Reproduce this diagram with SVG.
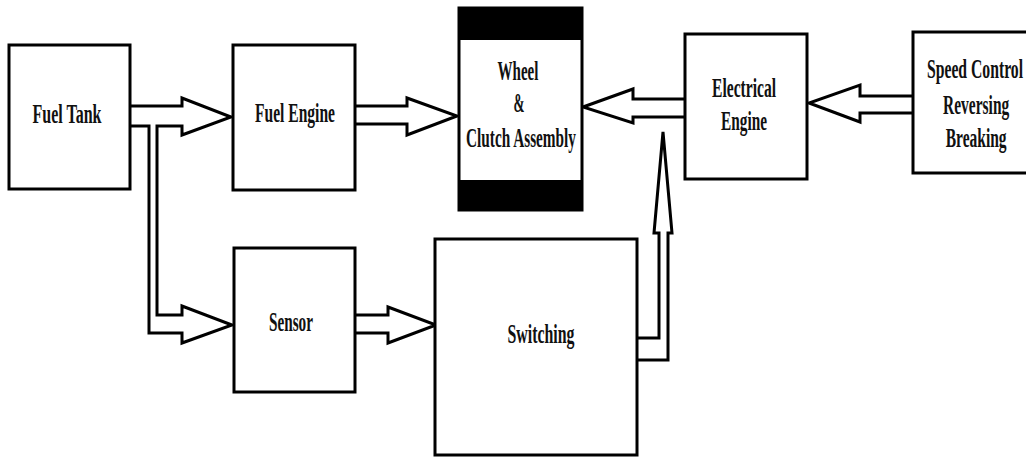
<svg xmlns="http://www.w3.org/2000/svg" width="1026" height="457" viewBox="0 0 1026 457">
<style>
.box{fill:#fff;stroke:#000;stroke-width:3}
.band{fill:#000}
.arr{fill:#fff;stroke:#000;stroke-width:3;stroke-linejoin:miter}
.t{font-family:"Liberation Serif","Times New Roman",serif;font-weight:bold;font-size:27px;fill:#111;text-anchor:middle}
</style>
<rect width="1026" height="457" fill="#fff"/>
<g id="connectors">
<path class="arr" d="M130,106 L182,106 L182,98 L231,117 L182,135 L182,126 L157,126 L157,315 L182,315 L182,306 L232,325 L182,343 L182,333 L149,333 L149,126 L130,126"/>
<path class="arr" d="M356,106 L407,106 L407,98 L457,116 L407,135 L407,124 L356,124"/>
<path class="arr" d="M684,99 L633,99 L633,89 L583,107 L633,123 L633,117 L684,117"/>
<path class="arr" d="M912,96 L860,96 L860,85 L809,103 L860,122 L860,113 L912,113"/>
<path class="arr" d="M356,315 L388,315 L388,307 L436,325 L388,343 L388,333 L356,333"/>
<path class="arr" d="M638,338 L659,338 L659,233 L654,233 L663,132 L672,233 L668,233 L668,360 L638,360"/>
</g>
<g id="fuel-tank">
<rect class="box" x="9" y="45" width="121" height="144"/>
<text class="t" x="67" y="123" textLength="69" lengthAdjust="spacingAndGlyphs">Fuel Tank</text>
</g>
<g id="fuel-engine">
<rect class="box" x="233" y="45" width="122" height="145"/>
<text class="t" x="295" y="122" textLength="80" lengthAdjust="spacingAndGlyphs">Fuel Engine</text>
</g>
<g id="wheel">
<rect class="box" x="459" y="8" width="123" height="202"/>
<rect class="band" x="458" y="7" width="125" height="33"/>
<rect class="band" x="458" y="180" width="125" height="31"/>
<text class="t" x="518" y="80" textLength="41" lengthAdjust="spacingAndGlyphs">Wheel</text>
<text class="t" x="519" y="112" textLength="11" lengthAdjust="spacingAndGlyphs">&amp;</text>
<text class="t" x="521" y="147" textLength="110" lengthAdjust="spacingAndGlyphs">Clutch Assembly</text>
</g>
<g id="electrical-engine">
<rect class="box" x="685" y="34" width="122" height="145"/>
<text class="t" x="744" y="97" textLength="64" lengthAdjust="spacingAndGlyphs">Electrical</text>
<text class="t" x="744" y="130" textLength="46" lengthAdjust="spacingAndGlyphs">Engine</text>
</g>
<g id="speed-control">
<path class="box" d="M1026,32 H913 V173 H1026"/>
<g transform="translate(975,0) scale(0.575,1)">
<text class="t" x="0" y="78" textLength="167" lengthAdjust="spacingAndGlyphs">Speed Control</text>
<text class="t" x="2" y="114" textLength="115" lengthAdjust="spacingAndGlyphs">Reversing</text>
<text class="t" x="2" y="147" textLength="106" lengthAdjust="spacingAndGlyphs">Breaking</text>
</g>
</g>
<g id="sensor">
<rect class="box" x="234" y="248" width="121" height="144"/>
<text class="t" x="291" y="331" textLength="44" lengthAdjust="spacingAndGlyphs">Sensor</text>
</g>
<g id="switching">
<rect class="box" x="435" y="239" width="202" height="216"/>
<text class="t" x="541" y="343" textLength="67" lengthAdjust="spacingAndGlyphs">Switching</text>
</g>
</svg>
